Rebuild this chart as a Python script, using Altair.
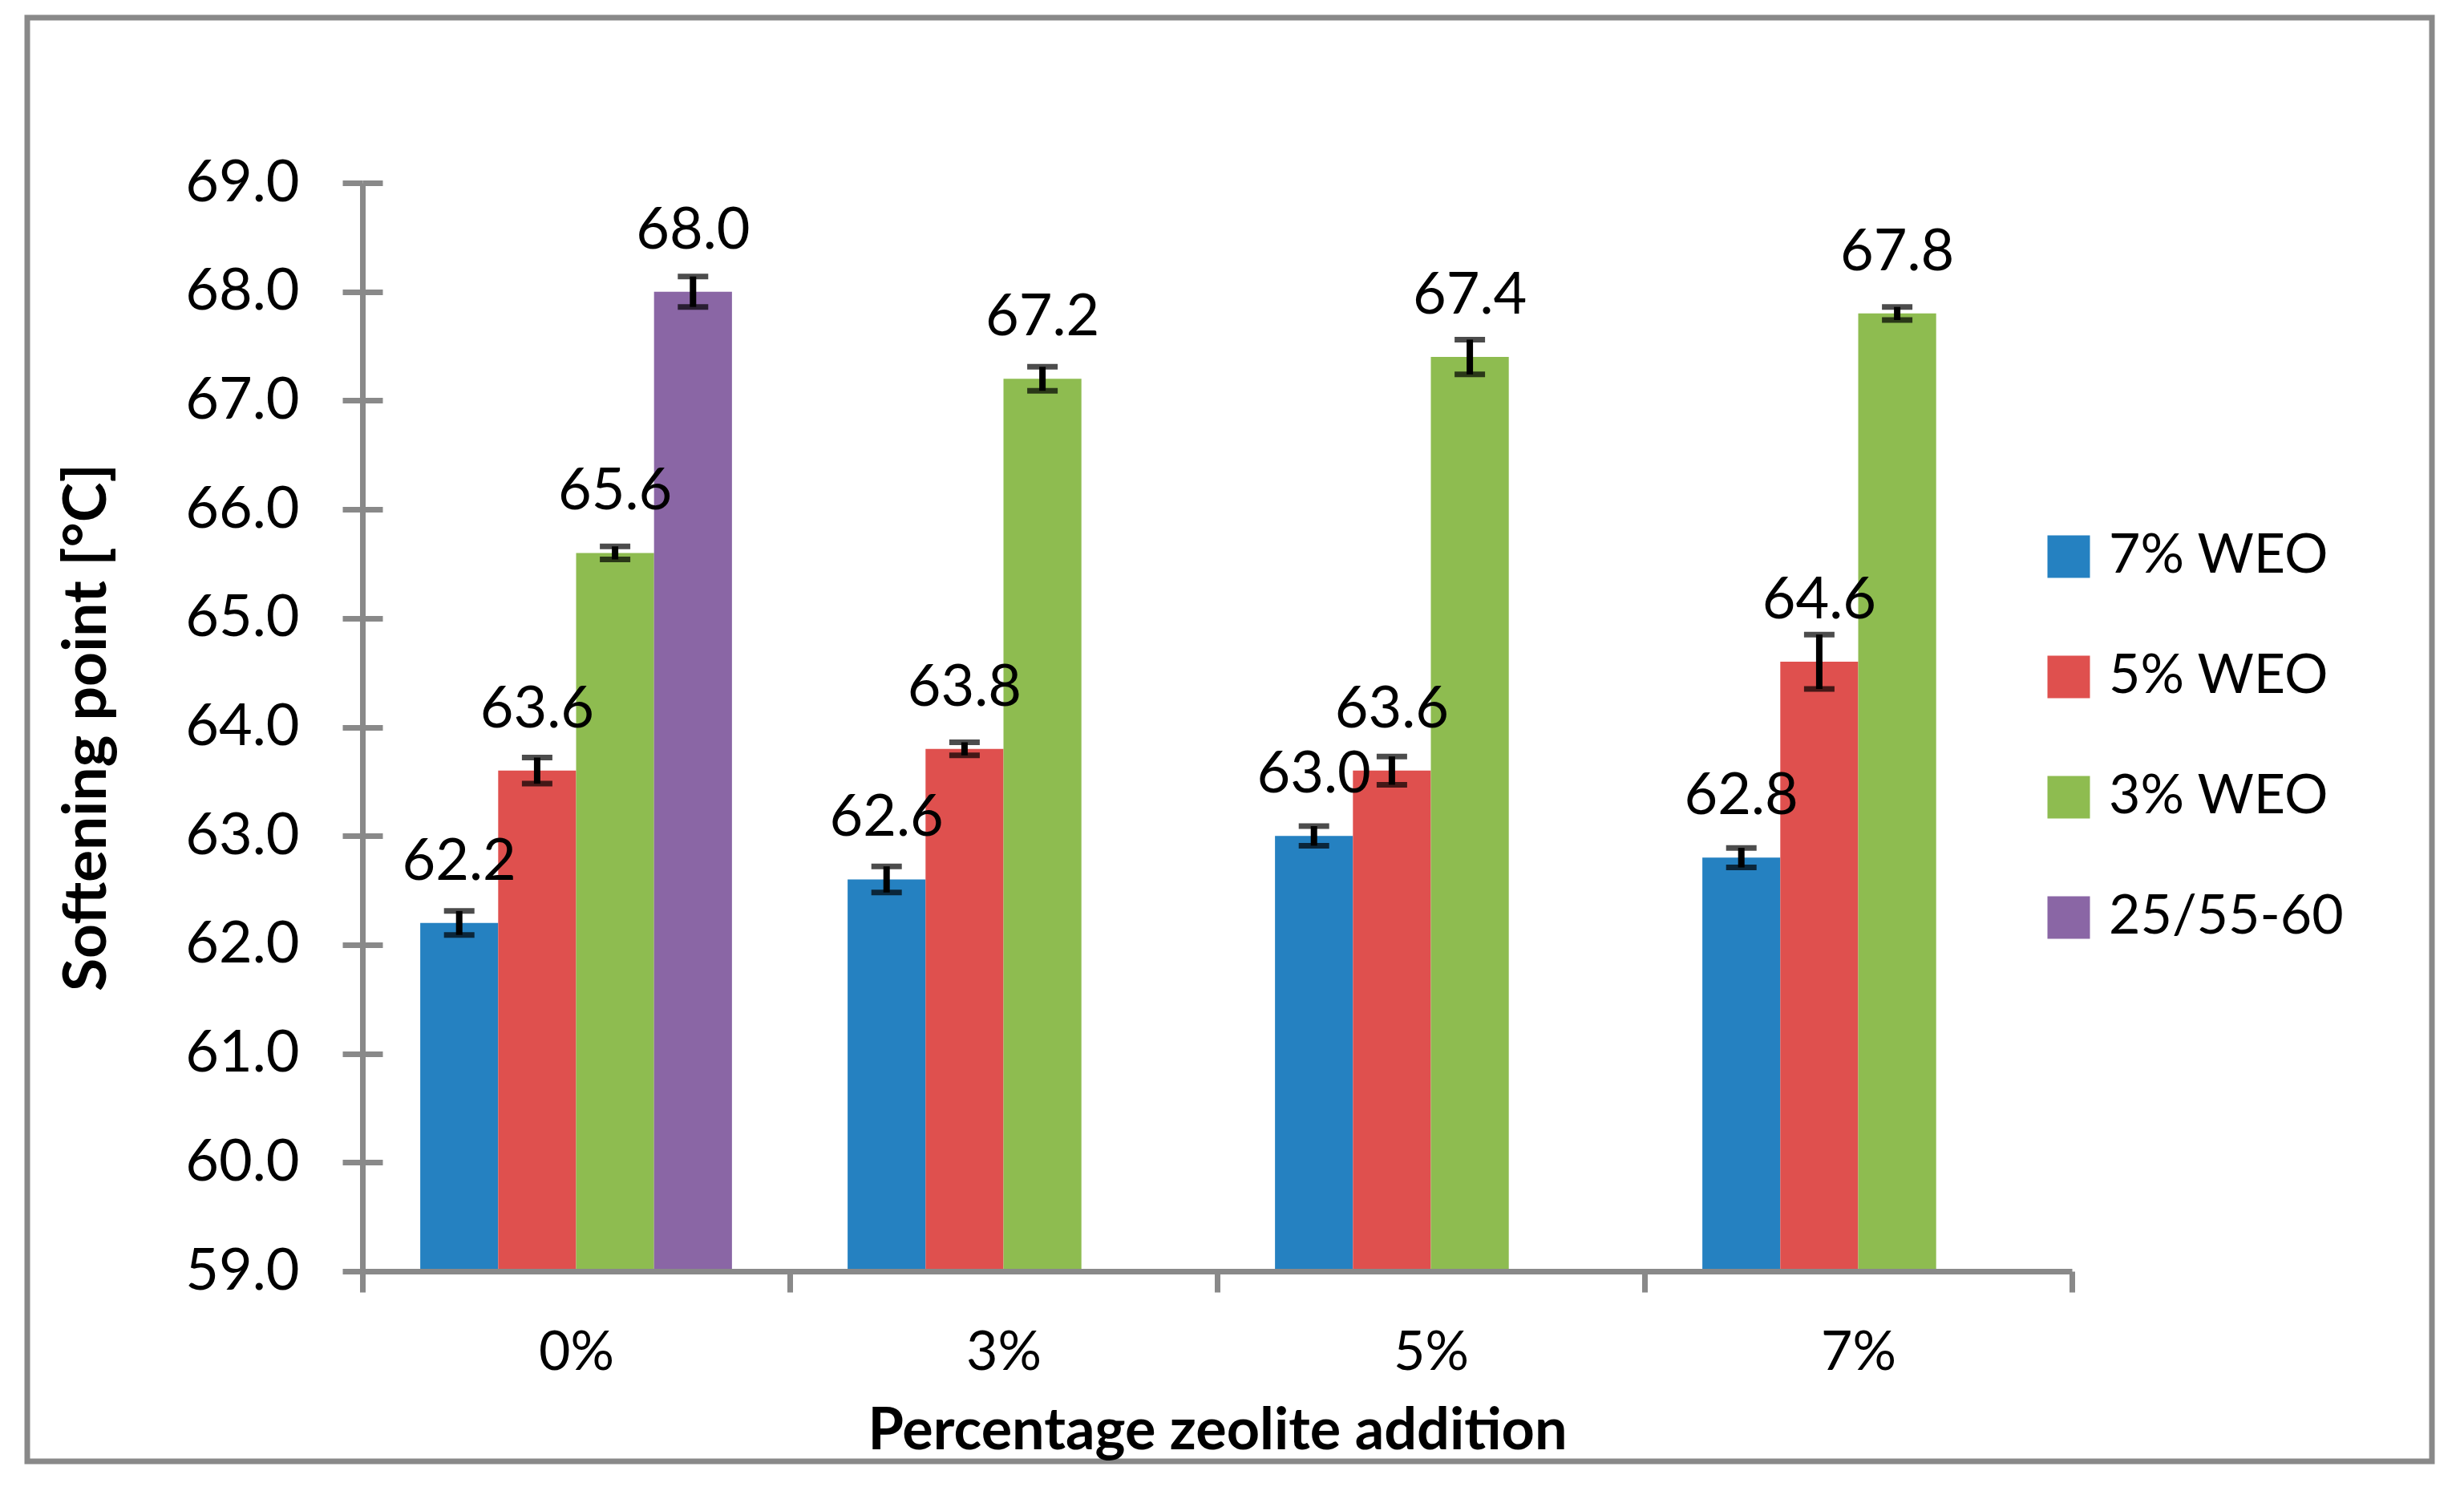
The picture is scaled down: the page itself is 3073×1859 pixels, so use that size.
import altair as alt
import pandas as pd

# ---- data ----
groups = ["0%", "3%", "5%", "7%"]
series = ["7% WEO", "5% WEO", "3% WEO", "25/55-60"]
weo7 = [62.2, 62.6, 63.0, 62.8]
weo5 = [63.6, 63.8, 63.6, 64.6]
weo3 = [65.6, 67.2, 67.4, 67.8]
binder = [68.0]
err7 = [0.11, 0.12, 0.09, 0.09]
err5 = [0.12, 0.06, 0.13, 0.25]
err3 = [0.06, 0.11, 0.16, 0.06]
err_binder = [0.14]
y_ticks = [59.0, 60.0, 61.0, 62.0, 63.0, 64.0, 65.0, 66.0, 67.0, 68.0, 69.0]
colors = ["#2581C1", "#DF504E", "#8EBC50", "#8A66A5"]

rows = []
for s, vals, errs in zip(series, [weo7, weo5, weo3, binder], [err7, err5, err3, err_binder]):
    for g, v, e in zip(groups, vals, errs):
        rows.append({"group": g, "series": s, "value": v, "lo": v - e, "hi": v + e})
df = pd.DataFrame(rows)

W, H = 2132, 1357
FONT = "Lato"
GRAY = "#898989"
Y_MIN, Y_MAX = y_ticks[0], y_ticks[-1]

y_scale = alt.Scale(domain=[Y_MIN, Y_MAX], zero=False, nice=False)
y_axis = alt.Axis(
    title="Softening point [°C]", values=y_ticks, format=".1f", grid=False,
    tickSize=25, labelPadding=54, labelFontSize=72, labelFont=FONT, labelColor="black",
    titleFont=FONT, titleFontSize=75, titleFontWeight="bold", titleColor="black",
    titleX=-344, titleY=H / 2, titleBaseline="middle", titleAlign="center", titleAngle=270,
    domainColor=GRAY, domainWidth=7, tickColor=GRAY, tickWidth=7, orient="left",
)
x_enc = alt.X(
    "group:N", sort=groups,
    scale=alt.Scale(paddingInner=0, paddingOuter=0),
    axis=alt.Axis(
        title="Percentage zeolite addition", labelAngle=0, tickBand="extent",
        tickSize=26, labelPadding=42, labelFontSize=68, labelFont=FONT, labelColor="black",
        titleFont=FONT, titleFontSize=72, titleFontWeight="bold", titleColor="black",
        titleY=221, titleBaseline="alphabetic",
        domainColor=GRAY, domainWidth=7, tickColor=GRAY, tickWidth=7, zindex=1,
    ),
)
xo = alt.XOffset("series:N", sort=series,
                 scale=alt.Scale(domain=series, paddingInner=0, paddingOuter=0.742))

base = alt.Chart(df).encode(x=x_enc, xOffset=xo)

bars = base.mark_bar().encode(
    y=alt.Y("value:Q", scale=y_scale, axis=y_axis),
    y2=alt.datum(Y_MIN),
    color=alt.Color(
        "series:N", sort=series,
        scale=alt.Scale(domain=series, range=colors),
        legend=alt.Legend(
            title=None, orient="none", legendX=2094, legendY=432,
            labelFont=FONT, labelFontSize=68, labelColor="black", labelLimit=800,
            symbolType="square", symbolSize=2809, symbolStrokeWidth=0,
            rowPadding=82, labelOffset=16,
        ),
    ),
)
rules = base.mark_rule(color="black", strokeWidth=8).encode(
    y=alt.Y("lo:Q", scale=y_scale, axis=y_axis), y2="hi:Q"
)
cap_lo = base.mark_tick(color="black", size=38, thickness=7).encode(
    y=alt.Y("lo:Q", scale=y_scale, axis=y_axis)
)
cap_hi = base.mark_tick(color="black", size=38, thickness=7).encode(
    y=alt.Y("hi:Q", scale=y_scale, axis=y_axis)
)
labels = base.mark_text(baseline="alphabetic", dy=-54, fontSize=72, font=FONT, color="black").encode(
    y=alt.Y("value:Q", scale=y_scale, axis=y_axis),
    text=alt.Text("value:Q", format=".1f"),
)

main = alt.layer(bars, rules, cap_lo, cap_hi, labels)

# inner half of the crossing y ticks
inner_ticks = alt.Chart(df).mark_point(opacity=0).encode(
    y=alt.Y("value:Q", scale=y_scale,
            axis=alt.Axis(values=y_ticks, orient="left", offset=-25, tickSize=25,
                          labels=False, domain=False, title=None, grid=False,
                          tickColor=GRAY, tickWidth=7))
)

frame = alt.Chart(pd.DataFrame({"k": [0]})).mark_rect(
    fill=None, stroke=GRAY, strokeWidth=7
).encode(
    x=alt.value(-418), x2=alt.value(2581), y=alt.value(-206), y2=alt.value(1594)
)

chart = alt.layer(frame, main, inner_ticks).resolve_axis(y="independent").properties(
    width=W, height=H,
    autosize=alt.AutoSizeParams(type="none"),
    padding={"left": 444, "top": 220, "right": 470, "bottom": 255},
    background="white",
).configure_view(stroke=None)

chart.save("out.html", embed_options={"renderer": "svg", "actions": False})
